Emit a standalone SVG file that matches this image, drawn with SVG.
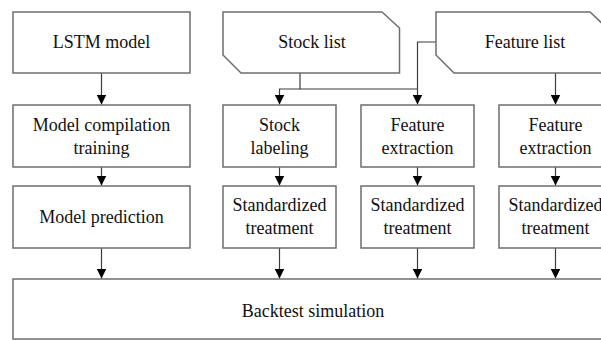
<svg xmlns="http://www.w3.org/2000/svg" width="601" height="340" viewBox="0 0 601 340">
<defs>
<style>
.box{fill:#fff;stroke:#6e6e6e;stroke-width:1.5}
.t{font-family:'Liberation Serif','DejaVu Serif','Times New Roman',serif;font-size:18px;fill:#111;text-anchor:middle}
.c{fill:none;stroke:#3c3c3c;stroke-width:1.2}
</style>
<marker id="ah" viewBox="0 0 10 10" refX="10" refY="5" markerWidth="10" markerHeight="10" markerUnits="userSpaceOnUse" orient="auto">
<path d="M0,0 L10,5 L0,10 z" fill="#000"/>
</marker>
</defs>
<rect width="601" height="340" fill="#fff"/>
<g id="connectors">
<path class="c" d="M101.5 73 V104.5" marker-end="url(#ah)"/>
<path class="c" d="M101.5 167 V185.5" marker-end="url(#ah)"/>
<path class="c" d="M101.5 248 V278.5" marker-end="url(#ah)"/>
<path class="c" d="M300 73 V89 H279.5 V104.5" marker-end="url(#ah)"/>
<path class="c" d="M300 89 H417.5"/>
<path class="c" d="M436 42 H417.5 V104.5" marker-end="url(#ah)"/>
<path class="c" d="M555.5 73 V104.5" marker-end="url(#ah)"/>
<path class="c" d="M279.5 167 V185.5" marker-end="url(#ah)"/>
<path class="c" d="M417.5 167 V185.5" marker-end="url(#ah)"/>
<path class="c" d="M555.5 167 V185.5" marker-end="url(#ah)"/>
<path class="c" d="M279.5 248 V278.5" marker-end="url(#ah)"/>
<path class="c" d="M417.5 248 V278.5" marker-end="url(#ah)"/>
<path class="c" d="M555.5 248 V278.5" marker-end="url(#ah)"/>
</g>
<g id="lstm"><rect class="box" x="13" y="12" width="177" height="61"/><text class="t" x="101.5" y="48" font-family="Liberation Serif, serif">LSTM model</text></g>
<g id="stocklist"><path class="box" d="M223 12 H382 L399.5 28 V73 H241 L223 55 Z"/><text class="t" x="312" y="48">Stock list</text></g>
<g id="featurelist"><path class="box" d="M436 12 H590 L607 28 V73 H454 L436 55 Z"/><text class="t" x="525" y="48">Feature list</text></g>
<g id="compile"><rect class="box" x="13" y="105" width="177" height="62"/><text class="t" x="101.5" y="131">Model compilation</text><text class="t" x="101.5" y="154">training</text></g>
<g id="stocklabel"><rect class="box" x="223" y="105" width="113" height="62"/><text class="t" x="279.5" y="131">Stock</text><text class="t" x="279.5" y="154">labeling</text></g>
<g id="fe1"><rect class="box" x="361" y="105" width="113" height="62"/><text class="t" x="417.5" y="131">Feature</text><text class="t" x="417.5" y="154">extraction</text></g>
<g id="fe2"><rect class="box" x="499" y="105" width="113" height="62"/><text class="t" x="555.5" y="131">Feature</text><text class="t" x="555.5" y="154">extraction</text></g>
<g id="predict"><rect class="box" x="13" y="186" width="177" height="62"/><text class="t" x="101.5" y="223">Model prediction</text></g>
<g id="std1"><rect class="box" x="223" y="186" width="113" height="62"/><text class="t" x="279.5" y="211">Standardized</text><text class="t" x="279.5" y="234">treatment</text></g>
<g id="std2"><rect class="box" x="361" y="186" width="113" height="62"/><text class="t" x="417.5" y="211">Standardized</text><text class="t" x="417.5" y="234">treatment</text></g>
<g id="std3"><rect class="box" x="499" y="186" width="113" height="62"/><text class="t" x="555.5" y="211">Standardized</text><text class="t" x="555.5" y="234">treatment</text></g>
<g id="backtest"><rect class="box" x="13" y="279" width="600" height="60"/><text class="t" x="313" y="317">Backtest simulation</text></g>
</svg>
